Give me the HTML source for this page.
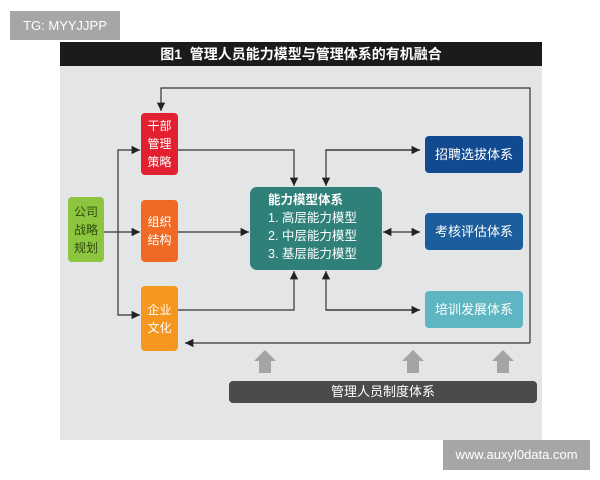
<!DOCTYPE html>
<html><head><meta charset="utf-8"><style>
body{margin:0;width:600px;height:480px;background:#fff;position:relative;overflow:hidden;font-family:"Liberation Sans","Noto Sans CJK SC",sans-serif}
.a{position:absolute}
.box{position:absolute;border-radius:4px;color:#fff;display:flex;align-items:center;justify-content:center;text-align:center;font-size:12px;line-height:18px}
</style></head><body>
<div class="a" style="left:10px;top:11px;width:110px;height:29px;background:#a6a6a6;color:#fff;font-size:13px;line-height:29px;text-align:center">TG: MYYJJPP</div>
<div class="a" style="left:60px;top:42px;width:482px;height:24px;background:#1b1b1b;color:#fff;font-size:14px;line-height:24px;text-align:center;font-weight:bold">图1&nbsp; 管理人员能力模型与管理体系的有机融合</div>
<div class="a" style="left:60px;top:66px;width:482px;height:374px;background:#e4e5e7"></div>
<svg class="a" style="left:0;top:0" width="600" height="480">
<defs><marker id="m" viewBox="0 0 10 10" refX="10" refY="5" markerWidth="7" markerHeight="7" orient="auto"><path d="M0,0L10,5L0,10z" fill="#222"/></marker></defs>
<g stroke="#333" stroke-width="1.2" fill="none">
<path d="M530,343V88H161V111" marker-end="url(#m)"/>
<path d="M530,343H185" marker-end="url(#m)"/>
<path d="M104,232H140" marker-end="url(#m)"/>
<path d="M118,232V150H140" marker-end="url(#m)"/>
<path d="M118,232V315H140" marker-end="url(#m)"/>
<path d="M178,150H294V186" marker-end="url(#m)"/>
<path d="M420,150H326V186" marker-end="url(#m)"/>
<path d="M326,150H420" marker-end="url(#m)"/>
<path d="M178,232H249" marker-end="url(#m)"/>
<path d="M400,232H420" marker-end="url(#m)"/>
<path d="M400,232H383" marker-end="url(#m)"/>
<path d="M178,310H294V271" marker-end="url(#m)"/>
<path d="M420,310H326V271" marker-end="url(#m)"/>
<path d="M326,310H420" marker-end="url(#m)"/>
</g>
<g fill="#a3a4a6">
<path d="M265,350L254,361H259V373H271V361H276Z"/>
<path d="M413,350L402,361H407V373H419V361H424Z"/>
<path d="M503,350L492,361H497V373H509V361H514Z"/>
</g>
</svg>
<div class="box" style="left:68px;top:197px;width:36px;height:65px;background:#8cc63f;color:#2f4a0e">公司<br>战略<br>规划</div>
<div class="box" style="left:141px;top:113px;width:37px;height:62px;background:#e3202f">干部<br>管理<br>策略</div>
<div class="box" style="left:141px;top:200px;width:37px;height:62px;background:#f06a24">组织<br>结构</div>
<div class="box" style="left:141px;top:286px;width:37px;height:65px;background:#f7961e">企业<br>文化</div>
<div class="a" style="left:250px;top:187px;width:132px;height:83px;background:#2e8079;border-radius:7px;color:#fff;font-size:12.5px;line-height:18px;padding-top:4px;box-sizing:border-box">
<div style="padding-left:18px;font-weight:bold">能力模型体系</div>
<div style="padding-left:18px">1. 高层能力模型</div>
<div style="padding-left:18px">2. 中层能力模型</div>
<div style="padding-left:18px">3. 基层能力模型</div></div>
<div class="box" style="left:425px;top:136px;width:98px;height:37px;background:#124a90;font-size:13px">招聘选拔体系</div>
<div class="box" style="left:425px;top:213px;width:98px;height:37px;background:#1c5e9c;font-size:13px">考核评估体系</div>
<div class="box" style="left:425px;top:291px;width:98px;height:37px;background:#5db6c1;font-size:13px">培训发展体系</div>
<div class="box" style="left:229px;top:381px;width:308px;height:22px;background:#4a4b4d;font-size:13px">管理人员制度体系</div>
<div class="a" style="left:443px;top:440px;width:147px;height:30px;background:#a6a6a6;color:#fff;font-size:13px;line-height:30px;text-align:center">www.auxyl0data.com</div>
</body></html>
